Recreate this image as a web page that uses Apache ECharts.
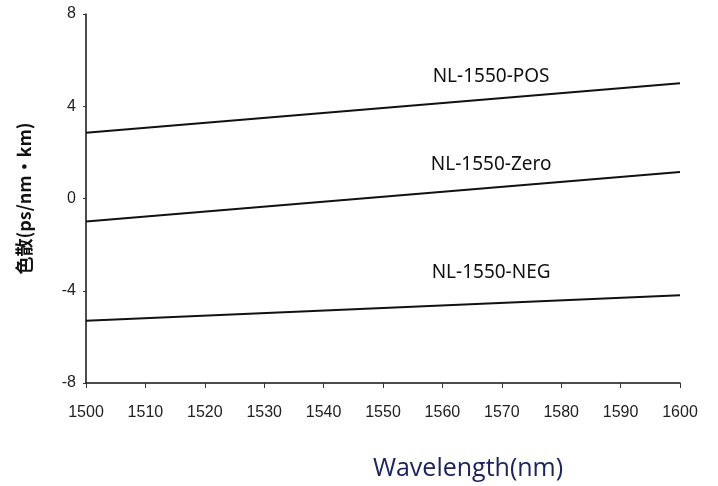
<!DOCTYPE html>
<html><head><meta charset="utf-8">
<script src="https://cdn.jsdelivr.net/npm/echarts@6/dist/echarts.min.js"></script>
<style>html,body{margin:0;padding:0;background:#fff}#c{width:718px;height:486px}</style>
</head><body><div id="c"></div>
<script>
const wavelengths = [1500, 1600];
const posValues = [2.85, 5.0];
const zeroValues = [-1.0, 1.15];
const negValues = [-5.3, -4.2];
const seriesNames = ['NL-1550-POS', 'NL-1550-Zero', 'NL-1550-NEG'];
const labelX = 1568.2;
const labelY = [5.3, 1.45, -3.2];

const chart = echarts.init(document.getElementById('c'));
const allValues = [posValues, zeroValues, negValues];
chart.setOption({
  animation: false,
  grid: {left: 86, right: 38, top: 14, bottom: 103},
  xAxis: {
    type: 'value', min: 1500, max: 1600, interval: 10,
    name: 'Wavelength(nm)', nameLocation: 'middle', nameGap: 73,
    nameTextStyle: {color: '#1c2460', fontSize: 25, fontFamily: 'Open Sans', padding: [0, 0, 0, 170]},
    axisLine: {onZero: false, lineStyle: {color: '#111', width: 1.5}},
    axisTick: {show: true, length: 5, lineStyle: {color: '#333'}},
    axisLabel: {color: '#222', fontSize: 16, fontFamily: 'Liberation Sans', margin: 22, formatter: v => String(v)},
    splitLine: {show: false}
  },
  yAxis: {
    type: 'value', min: -8, max: 8, interval: 4,
    name: '色散(ps/nm·km)', nameLocation: 'middle', nameGap: 53, nameRotate: 90,
    nameTextStyle: {color: '#111', fontSize: 18, fontWeight: 'bold', fontFamily: 'Noto Sans CJK SC', padding: [0, 0, 0, 0]},
    axisLine: {show: true, onZero: false, lineStyle: {color: '#111', width: 1.5}},
    axisTick: {show: true, length: 3, lineStyle: {color: '#333'}},
    axisLabel: {color: '#222', fontSize: 16, fontFamily: 'Liberation Sans', margin: 10},
    splitLine: {show: false}
  },
  series: seriesNames.map((n, i) => ({
    name: n, type: 'line', showSymbol: false,
    data: wavelengths.map((w, j) => [w, allValues[i][j]]),
    lineStyle: {color: '#111', width: 2},
    markPoint: {
      symbol: 'circle', symbolSize: 0,
      label: {show: true, formatter: n, color: '#111', fontSize: 19, fontFamily: 'Noto Sans', position: 'inside'},
      data: [{coord: [labelX, labelY[i]]}]
    }
  }))
});
</script></body></html>
